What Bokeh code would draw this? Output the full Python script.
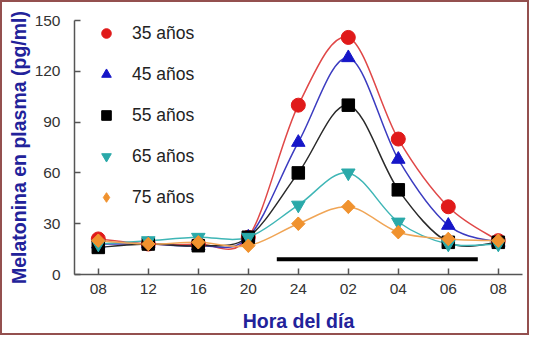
from bokeh.plotting import figure
from bokeh.models import Legend, LegendItem, FixedTicker, Range1d
from bokeh.embed import file_html
from bokeh.resources import INLINE

# ---- data ----
hours = ["08", "12", "16", "20", "24", "02", "04", "06", "08"]
xpos = [0, 1, 2, 3, 4, 5, 6, 7, 8]
age_labels = ["35 años", "45 años", "55 años", "65 años", "75 años"]
mel_35 = [21, 18, 18, 22, 100, 140, 80, 40, 20]
mel_45 = [18, 18, 17, 22, 78, 128, 68, 29, 19]
mel_55 = [16, 18, 17, 22, 60, 100, 50, 19, 19]
mel_65 = [18, 20, 22, 22, 41, 60, 31, 18, 18]
mel_75 = [20, 18, 19, 17, 30, 40, 25, 21, 20]
night_start = 3.57   # position on the hour axis
night_end = 7.59
night_level = 9

series = [mel_35, mel_45, mel_55, mel_65, mel_75]
markers = ["circle", "triangle", "square", "inverted_triangle", "square"]
legend_markers = ["circle", "triangle", "square", "inverted_triangle", "diamond"]
marker_angles = [0, 0, 0, 0, 0.785398]
marker_colors = ["#e01a1a", "#1616c8", "#000000", "#2aa9a9", "#f0922e"]
line_colors = ["#e04848", "#3c3cc0", "#2a2a2a", "#3fb6b6", "#f0a556"]
marker_sizes = [14, 13.5, 12.5, 13.5, 9.5]

p = figure(width=529, height=335, output_backend="svg", toolbar_location=None,
           x_range=Range1d(-0.476, 8.484), y_range=Range1d(0, 150),
           min_border_left=72, min_border_right=9, min_border_top=18, min_border_bottom=63)
p.styles = {"border": "2px solid #94504f"}
p.grid.visible = False
p.outline_line_color = None
p.background_fill_color = "white"
p.border_fill_color = "white"


def bez(xs, ys):
    n = len(xs)
    out = dict(x0=[], y0=[], x1=[], y1=[], cx0=[], cy0=[], cx1=[], cy1=[])
    for i in range(n - 1):
        ip = max(i - 1, 0)
        inn = min(i + 2, n - 1)
        out["x0"].append(xs[i]); out["y0"].append(ys[i])
        out["x1"].append(xs[i + 1]); out["y1"].append(ys[i + 1])
        out["cx0"].append(xs[i] + (xs[i + 1] - xs[ip]) / 6)
        out["cy0"].append(ys[i] + (ys[i + 1] - ys[ip]) / 6)
        out["cx1"].append(xs[i + 1] - (xs[inn] - xs[i]) / 6)
        out["cy1"].append(ys[i + 1] - (ys[inn] - ys[i]) / 6)
    return out


for ys, lc in zip(series, line_colors):
    p.bezier(line_color=lc, line_width=1.5, **bez(xpos, ys))

p.line([night_start, night_end], [night_level, night_level], line_color="black", line_width=4)

items = []
for ys, mk, lmk, ang, mc, ms, lab in zip(series, markers, legend_markers, marker_angles,
                                          marker_colors, marker_sizes, age_labels):
    leg_r = None
    if lmk != mk:
        # diamond drawn underneath (fully covered); it supplies the legend glyph
        leg_r = p.scatter(xpos, ys, marker=lmk, size=13, fill_color=mc, line_color=mc)
    r = p.scatter(xpos, ys, marker=mk, size=ms, angle=ang,
                  fill_color=mc, line_color=mc)
    items.append(LegendItem(label=lab, renderers=[leg_r if leg_r is not None else r]))

legend = Legend(items=items, location=(20, 65), glyph_width=24, glyph_height=24,
                spacing=17, label_standoff=14, label_text_font_size="17.5px",
                label_text_font="Liberation Sans", label_text_color="#222222",
                border_line_alpha=0, background_fill_alpha=0, padding=0, margin=0)
p.add_layout(legend)

for ax in (p.xaxis[0], p.yaxis[0]):
    ax.axis_line_color = "#555555"
    ax.axis_line_width = 1.5
    ax.major_tick_line_color = "#555555"
    ax.major_tick_line_width = 1.5
    ax.major_tick_in = 6
    ax.major_tick_out = 0
    ax.minor_tick_line_color = None
    ax.major_label_text_font = "Liberation Sans"
    ax.major_label_text_font_size = "15.5px"
    ax.major_label_text_color = "#333333"
    ax.axis_label_text_font = "Liberation Sans"
    ax.axis_label_text_font_style = "bold"
    ax.axis_label_text_font_size = "19.5px"
    ax.axis_label_text_color = "#22229a"

p.xaxis.ticker = FixedTicker(ticks=xpos)
p.xaxis.major_label_overrides = {x: h for x, h in zip(xpos, hours)}
p.xaxis.major_label_standoff = 9
p.xaxis.axis_label = "Hora del día"
p.xaxis.axis_label_standoff = 13

p.yaxis.ticker = FixedTicker(ticks=[0, 30, 60, 90, 120, 150])
p.yaxis.major_label_standoff = 14
p.yaxis.axis_label = "Melatonina en plasma (pg/ml)"
p.yaxis.axis_label_standoff = 2

open("out.html", "w").write(file_html(p, INLINE))
